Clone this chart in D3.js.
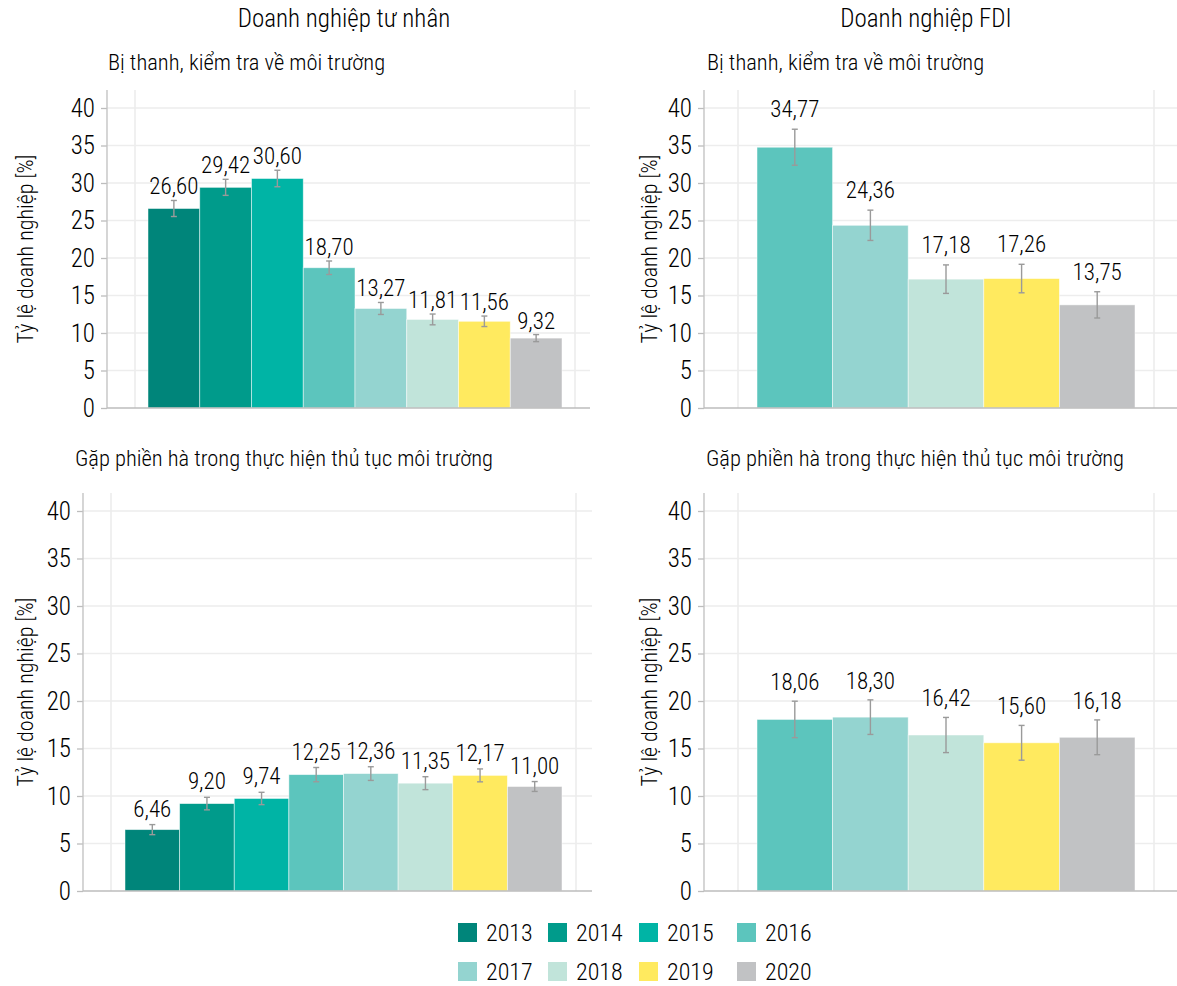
<!DOCTYPE html>
<html><head><meta charset="utf-8">
<script src="https://cdn.jsdelivr.net/npm/d3@7"></script>
<style>
body{margin:0;background:#fff}
svg{display:block}
text{font-family:'Roboto Condensed','Liberation Sans Narrow','DejaVu Sans Condensed',Roboto,sans-serif;fill:#000;font-weight:300}
</style>
</head><body>
<svg id="c" width="1177" height="986"></svg>
<script>
// ---------- data ----------
const years = ["2013","2014","2015","2016","2017","2018","2019","2020"];
const fdiYears = ["2016","2017","2018","2019","2020"];
const yearColors = ["#00857a","#009b8b","#00b4a5","#5cc5bd","#94d4d0","#c1e4da","#ffea5f","#c1c2c4"];
const groupTitles = ["Doanh nghiệp tư nhân","Doanh nghiệp FDI"];
const panelTitles = ["Bị thanh, kiểm tra về môi trường","Gặp phiền hà trong thực hiện thủ tục môi trường"];
const yAxisTitle = "Tỷ lệ doanh nghiệp [%]";
const yTicks = [0,5,10,15,20,25,30,35,40];

const privInspect    = [26.60,29.42,30.60,18.70,13.27,11.81,11.56,9.32];
const privInspectErr = [1.07,1.07,1.10,0.90,0.80,0.72,0.70,0.47];
const fdiInspect     = [34.77,24.36,17.18,17.26,13.75];
const fdiInspectErr  = [2.40,2.02,1.90,1.90,1.75];
const privHassle     = [6.46,9.20,9.74,12.25,12.36,11.35,12.17,11.00];
const privHassleErr  = [0.53,0.66,0.65,0.75,0.72,0.68,0.68,0.52];
const fdiHassle      = [18.06,18.30,16.42,15.60,16.18];
const fdiHassleErr   = [1.92,1.82,1.85,1.83,1.83];

// ---------- layout ----------
const panels = [
  {cats:years, vals:privInspect, errs:privInspectErr, sub:panelTitles[0],
   axisX:107, right:590, top:90, y0:408, y40:108, band:[135,575], bars:[148,562], subX:108, subY:70, yTitleX:25, gap:6},
  {cats:fdiYears, vals:fdiInspect, errs:fdiInspectErr, sub:panelTitles[0],
   axisX:704, right:1177, top:90, y0:408, y40:108, band:[738,1154], bars:[757,1135], subX:707, subY:70, yTitleX:649, gap:12},
  {cats:years, vals:privHassle, errs:privHassleErr, sub:panelTitles[1],
   axisX:83, right:592, top:493, y0:891, y40:511, band:[111,576], bars:[125,562], subX:75, subY:466, yTitleX:25, gap:8},
  {cats:fdiYears, vals:fdiHassle, errs:fdiHassleErr, sub:panelTitles[1],
   axisX:704, right:1177, top:493, y0:891, y40:511, band:[738,1154], bars:[757,1135], subX:706, subY:466, yTitleX:649, gap:11}
];

const svg = d3.select("#c");
const color = d3.scaleOrdinal().domain(years).range(yearColors);
const fmt = v => d3.format(".2f")(v).replace(".", ",");

// group titles
svg.selectAll("text.gt").data(groupTitles).join("text")
  .attr("class","gt")
  .attr("x",(d,i)=>[344,926][i]).attr("y",27)
  .attr("text-anchor","middle").style("font-size","25px").text(d=>d);

panels.forEach(p=>{
  const g = svg.append("g");
  const y = d3.scaleLinear().domain([0,40]).range([p.y0,p.y40]);
  const x = d3.scaleBand().domain(p.cats).range(p.bars).padding(0);

  // subtitle
  g.append("text").attr("x",p.subX).attr("y",p.subY).style("font-size","22.5px").text(p.sub);

  // horizontal gridlines
  g.selectAll("line.hg").data(yTicks.filter(t=>t>0)).join("line")
    .attr("x1",p.axisX).attr("x2",p.right)
    .attr("y1",d=>y(d)).attr("y2",d=>y(d))
    .attr("stroke","#ededed").attr("stroke-width",1.6);
  // vertical gridlines at category band edges
  g.selectAll("line.vg").data(p.band).join("line")
    .attr("x1",d=>d).attr("x2",d=>d)
    .attr("y1",p.top).attr("y2",p.y0)
    .attr("stroke","#ededed").attr("stroke-width",1.6);

  // bars
  const data = p.cats.map((c,i)=>({c, v:p.vals[i], e:p.errs[i]}));
  g.selectAll("rect").data(data).join("rect")
    .attr("x",d=>x(d.c)).attr("width",x.bandwidth())
    .attr("y",d=>y(d.v)).attr("height",d=>y(0)-y(d.v))
    .attr("fill",d=>color(d.c))
    .attr("stroke","rgba(255,255,255,0.6)").attr("stroke-width",0.8);

  // error bars
  const cx = d=>x(d.c)+x.bandwidth()/2;
  const eb = g.selectAll("g.eb").data(data).join("g").attr("stroke","#9a9a9a").attr("stroke-width",1.4);
  eb.append("line").attr("x1",cx).attr("x2",cx).attr("y1",d=>y(d.v+d.e)).attr("y2",d=>y(d.v-d.e));
  eb.append("line").attr("x1",d=>cx(d)-3).attr("x2",d=>cx(d)+3).attr("y1",d=>y(d.v+d.e)).attr("y2",d=>y(d.v+d.e));
  eb.append("line").attr("x1",d=>cx(d)-3).attr("x2",d=>cx(d)+3).attr("y1",d=>y(d.v-d.e)).attr("y2",d=>y(d.v-d.e));

  // value labels
  g.selectAll("text.vl").data(data).join("text").attr("class","vl")
    .attr("x",cx).attr("y",d=>y(d.v+d.e)-p.gap)
    .attr("text-anchor","middle").style("font-size","23px").text(d=>fmt(d.v));

  // y axis
  const ax = g.append("g").attr("transform",`translate(${p.axisX},0)`)
    .call(d3.axisLeft(y).tickValues(yTicks).tickSize(6).tickPadding(6).tickFormat(d3.format("d")));
  ax.select(".domain").remove();
  ax.selectAll(".tick line").attr("stroke","#bdbdbd").attr("stroke-width",1.3);
  ax.selectAll(".tick text").style("font-size","25px").attr("fill","#000").attr("font-family",null);
  g.append("line").attr("x1",p.axisX).attr("x2",p.axisX).attr("y1",p.top).attr("y2",p.y0)
    .attr("stroke","#c4c4c4").attr("stroke-width",1.4);
  // baseline
  g.append("line").attr("x1",p.axisX).attr("x2",p.right).attr("y1",p.y0).attr("y2",p.y0)
    .attr("stroke","#bdbdbd").attr("stroke-width",1.4);

  // y title
  g.append("text").attr("transform",`translate(${p.yTitleX},${(p.top+p.y0)/2}) rotate(-90)`)
    .attr("text-anchor","middle").attr("dy","0.35em").style("font-size","22px").text(yAxisTitle);
});

// legend
const legX = [458,548,639,737], legY = [923,962];
const leg = svg.selectAll("g.leg").data(years).join("g").attr("class","leg")
  .attr("transform",(d,i)=>`translate(${legX[i%4]},${legY[Math.floor(i/4)]})`);
leg.append("rect").attr("width",19).attr("height",19).attr("fill",d=>color(d));
leg.append("text").attr("x",28).attr("y",18).style("font-size","24px").text(d=>d);
</script>
</body></html>
